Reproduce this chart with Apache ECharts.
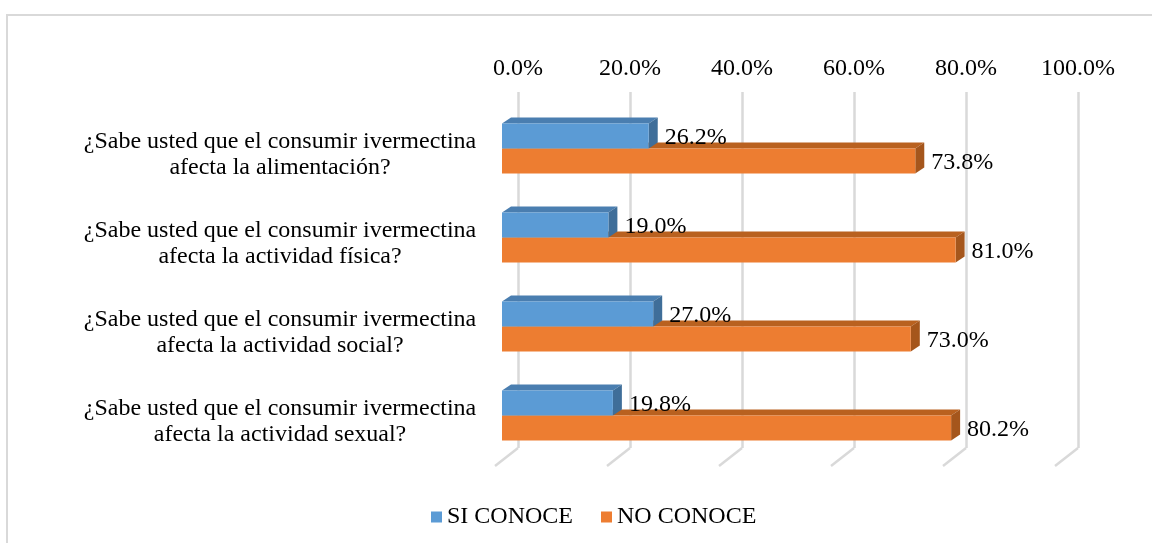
<!DOCTYPE html>
<html>
<head>
<meta charset="utf-8">
<script src="https://cdn.jsdelivr.net/npm/echarts@6/dist/echarts.min.js"></script>
<style>
  html, body { margin: 0; padding: 0; background: #fff; }
  #main { width: 1152px; height: 543px; }
</style>
</head>
<body>
<div id="main"></div>
<script>
// datos
const preguntas = [
  '¿Sabe usted que el consumir ivermectina\nafecta la alimentación?',
  '¿Sabe usted que el consumir ivermectina\nafecta la actividad física?',
  '¿Sabe usted que el consumir ivermectina\nafecta la actividad social?',
  '¿Sabe usted que el consumir ivermectina\nafecta la actividad sexual?'
]
const siConoce = [26.2, 19.0, 27.0, 19.8]
const noConoce = [73.8, 81.0, 73.0, 80.2]
const ticks = [0, 20, 40, 60, 80, 100]

const FONT = '"Liberation Serif", "Times New Roman", serif'

// colores: frente, tapa, lado
const azul = ['#5B9BD5', '#4A7EB0', '#3F6E99']
const naranja = ['#ED7D31', '#B9611F', '#A5561C']

// barra 3d: dir -1 arriba del centro de la categoria, +1 abajo
function bar3d(dir, cols) {
  return function (params, api) {
    const val = api.value(0)
    const cat = api.value(1)
    const start = api.coord([0, cat])
    const end = api.coord([val, cat])
    const h = api.size([0, 1])[1] * 0.28
    const dx = 9, dy = -6
    const x0 = start[0], x1 = end[0]
    const y0 = dir < 0 ? start[1] - h : start[1]
    const y1 = y0 + h
    return {
      type: 'group',
      children: [
        { type: 'polygon', shape: { points: [[x0, y0], [x1, y0], [x1 + dx, y0 + dy], [x0 + dx, y0 + dy]] }, style: { fill: cols[1] } },
        { type: 'polygon', shape: { points: [[x1, y0], [x1 + dx, y0 + dy], [x1 + dx, y1 + dy], [x1, y1]] }, style: { fill: cols[2] } },
        { type: 'rect', shape: { x: x0, y: y0, width: x1 - x0, height: h }, style: { fill: cols[0] } },
        { type: 'text', x: x1 + dx + 7, y: (y0 + y1) / 2 + 2,
          style: { text: val.toFixed(1) + '%', font: '24px ' + FONT, fill: '#000', verticalAlign: 'middle', align: 'left' } }
      ]
    }
  }
}

const mychart = echarts.init(document.getElementById('main'))
const option = {
  animation: false,
  graphic: [
    { type: 'rect', shape: { x: 7, y: 15, width: 1300, height: 700 }, style: { fill: 'none', stroke: '#D9D9D9', lineWidth: 2 }, z: -1 }
  ],
  legend: {
    data: ['SI CONOCE', 'NO CONOCE'],
    left: 426,
    top: 500,
    icon: 'rect',
    itemWidth: 11,
    itemHeight: 11,
    itemGap: 28,
    textStyle: { fontFamily: FONT, fontSize: 24, color: '#000' }
  },
  grid: [
    // pared del fondo (lineas de division)
    { left: 518, right: 74, top: 92, bottom: 95 },
    // plano frontal de las barras
    { left: 502, right: 90, top: 104, bottom: 83 },
    // solo para los textos de las preguntas
    { left: 502, right: 90, top: 110, bottom: 77 }
  ],
  xAxis: [
    {
      gridIndex: 0, type: 'value', position: 'top', min: 0, max: 100, interval: 20,
      axisLine: { show: false }, axisTick: { show: false },
      axisLabel: { margin: 11, fontFamily: FONT, fontSize: 24, color: '#000',
        formatter: v => v.toFixed(1) + '%' },
      splitLine: { show: true, lineStyle: { color: '#D9D9D9', width: 2.5 } }
    },
    { gridIndex: 1, type: 'value', min: 0, max: 100, show: false },
    { gridIndex: 2, type: 'value', min: 0, max: 100, show: false }
  ],
  yAxis: [
    { gridIndex: 0, type: 'value', min: 0, max: 1, show: false },
    { gridIndex: 1, type: 'category', inverse: true, data: preguntas, show: false },
    {
      gridIndex: 2, type: 'category', inverse: true, data: preguntas,
      axisLine: { show: false }, axisTick: { show: false }, splitLine: { show: false },
      axisLabel: { margin: 222, align: 'center', fontFamily: FONT, fontSize: 24, lineHeight: 26,
        color: '#000' }
    }
  ],
  series: [
    {
      // piso: diagonales al pie de cada linea
      type: 'custom', xAxisIndex: 0, yAxisIndex: 0, silent: true,
      data: ticks.map(t => [t, 0]),
      renderItem: function (params, api) {
        const p = api.coord([api.value(0), 0])
        return { type: 'line', shape: { x1: p[0], y1: p[1], x2: p[0] - 23, y2: p[1] + 18 },
          style: { stroke: '#D9D9D9', lineWidth: 2.5 } }
      }
    },
    {
      name: 'NO CONOCE', type: 'custom', xAxisIndex: 1, yAxisIndex: 1,
      itemStyle: { color: naranja[0] },
      data: noConoce.map((v, i) => [v, i]),
      encode: { x: 0, y: 1 },
      renderItem: bar3d(1, naranja)
    },
    {
      name: 'SI CONOCE', type: 'custom', xAxisIndex: 1, yAxisIndex: 1,
      itemStyle: { color: azul[0] },
      data: siConoce.map((v, i) => [v, i]),
      encode: { x: 0, y: 1 },
      renderItem: bar3d(-1, azul)
    }
  ]
}
mychart.setOption(option)
</script>
</body>
</html>
